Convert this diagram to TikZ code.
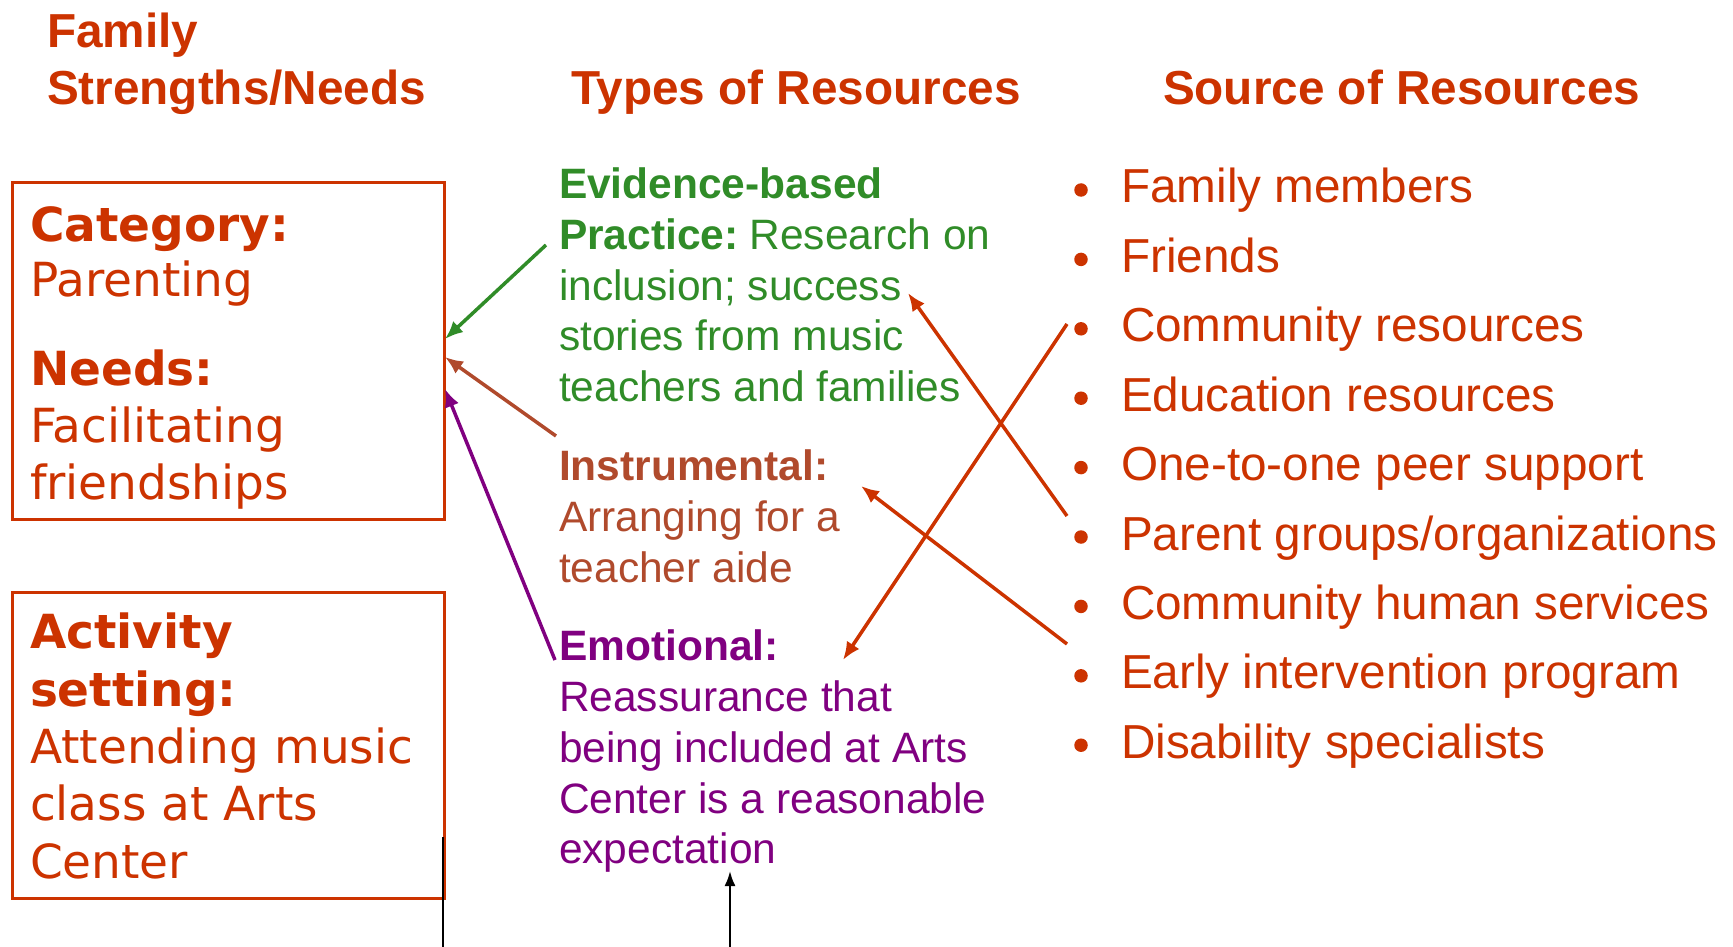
\documentclass[tikz,border=0pt]{standalone}
\usepackage{fontspec}
\setmainfont{Liberation Sans}
\newfontfamily\dejavu{DejaVu Sans}
\usetikzlibrary{arrows.meta}
\definecolor{rust}{RGB}{204,51,0}
\definecolor{evgreen}{RGB}{48,140,40}
\definecolor{instbrown}{RGB}{176,74,44}
\definecolor{emopurple}{RGB}{128,0,128}
\tikzset{
  txt/.style={inner sep=0pt, outer sep=0pt, anchor=base west},
  hdr/.style={txt, text=rust, font=\fontsize{47.7}{56}\selectfont\bfseries},
  lst/.style={txt, text=rust, font=\fontsize{47.7}{56}\selectfont},
  mid/.style={txt, font=\fontsize{42.5}{51}\selectfont},
  boxtxt/.style={txt, text=rust, font=\dejavu\fontsize{47}{57}\selectfont},
  boxbold/.style={txt, text=rust, font=\dejavu\bfseries\fontsize{47}{57}\selectfont},
  frame/.style={draw=rust, line width=2.7pt, inner sep=0pt, anchor=north west, minimum width=432pt},
  dot/.style={circle, fill=rust, inner sep=0pt, minimum size=13.5pt},
  arr/.style={line width=3.5pt, -{Latex[length=18pt,width=15pt]}},
  karr/.style={line width=2.2pt, -{Latex[length=15pt,width=11pt]}}
}
\begin{document}
\begin{tikzpicture}[x=1pt,y=-1pt]
\useasboundingbox (0,0) rectangle (1733,947);

% headers
\node[hdr] (h1a) at (47,47.5) {Family};
\node[hdr] (h1b) at (47,105) {Strengths/Needs};
\node[hdr] (h2) at (571,105) {Types of Resources};
\node[hdr] (h3) at (1163,105) {Source of Resources};

% left boxes
\node[frame, minimum height=337pt] (box1) at (11,181) {};
\node[boxbold] (cat) at (30,241) {Category:};
\node[boxtxt] (par) at (30,296) {Parenting};
\node[boxbold] (needs) at (30,385) {Needs:};
\node[boxtxt] (fac) at (30,442) {Facilitating};
\node[boxtxt] (fri) at (30,499) {friendships};

\node[frame, minimum height=306pt] (box2) at (11,591) {};
\node[boxbold] (act) at (30,648) {Activity};
\node[boxbold] (set) at (30,706) {setting:};
\node[boxtxt] (att) at (30,763) {Attending music};
\node[boxtxt] (cls) at (30,820) {class at Arts};
\node[boxtxt] (cen) at (30,878) {Center};

% middle column
\node[mid, text=evgreen, font=\fontsize{42.5}{51}\selectfont\bfseries] (ev1) at (559,198) {Evidence-based};
\node[mid, text=evgreen] (ev2) at (559,249) {\textbf{Practice:}\hspace{11pt}Research on};
\node[mid, text=evgreen] (ev3) at (559,300) {inclusion; success};
\node[mid, text=evgreen] (ev4) at (559,350) {stories from music};
\node[mid, text=evgreen] (ev5) at (559,401) {teachers and families};

\node[mid, text=instbrown, font=\fontsize{42.5}{51}\selectfont\bfseries] (in1) at (559,480) {Instrumental:};
\node[mid, text=instbrown] (in2) at (559,531) {Arranging for a};
\node[mid, text=instbrown] (in3) at (559,582) {teacher aide};

\node[mid, text=emopurple, font=\fontsize{42.5}{51}\selectfont\bfseries] (em1) at (559,660) {Emotional:};
\node[mid, text=emopurple] (em2) at (559,711) {Reassurance that};
\node[mid, text=emopurple] (em3) at (559,762) {being included at Arts};
\node[mid, text=emopurple] (em4) at (559,813) {Center is a reasonable};
\node[mid, text=emopurple] (em5) at (559,863) {expectation};

% right list
\node[dot] (d1) at (1081,190) {};
\node[lst] (s1) at (1121,203) {Family members};
\node[dot] (d2) at (1081,259.4) {};
\node[lst] (s2) at (1121,272.4) {Friends};
\node[dot] (d3) at (1081,328.8) {};
\node[lst] (s3) at (1121,341.8) {Community resources};
\node[dot] (d4) at (1081,398.2) {};
\node[lst] (s4) at (1121,411.2) {Education resources};
\node[dot] (d5) at (1081,467.6) {};
\node[lst] (s5) at (1121,480.6) {One-to-one peer support};
\node[dot] (d6) at (1081,537) {};
\node[lst] (s6) at (1121,550) {Parent groups/organizations};
\node[dot] (d7) at (1081,606.4) {};
\node[lst] (s7) at (1121,619.4) {Community human services};
\node[dot] (d8) at (1081,675.8) {};
\node[lst] (s8) at (1121,688.8) {Early intervention program};
\node[dot] (d9) at (1081,745.2) {};
\node[lst] (s9) at (1121,758.2) {Disability specialists};

% connector end points
\coordinate (gS) at (546,245);  \coordinate (gE) at (445,339);
\coordinate (bS) at (556,436);  \coordinate (bE) at (445,357);
\coordinate (pS) at (555,660);  \coordinate (pE) at (445,389);
\coordinate (o1S) at (1067,516); \coordinate (o1E) at (908,293);
\coordinate (o2S) at (1067,324); \coordinate (o2E) at (843,660);
\coordinate (o3S) at (1067,644); \coordinate (o3E) at (861,486);
\coordinate (kS) at (730,947);  \coordinate (kE) at (730,871);
\coordinate (lT) at (443,837);  \coordinate (lB) at (443,947);

\draw[arr, evgreen] (gS) -- (gE);
\draw[arr, instbrown] (bS) -- (bE);
\draw[arr, emopurple] (pS) -- (pE);
\draw[arr, rust] (o1S) -- (o1E);
\draw[arr, rust] (o2S) -- (o2E);
\draw[arr, rust] (o3S) -- (o3E);
\draw[karr, black] (kS) -- (kE);
\draw[line width=2.2pt, black] (lT) -- (lB);
\end{tikzpicture}
\end{document}
